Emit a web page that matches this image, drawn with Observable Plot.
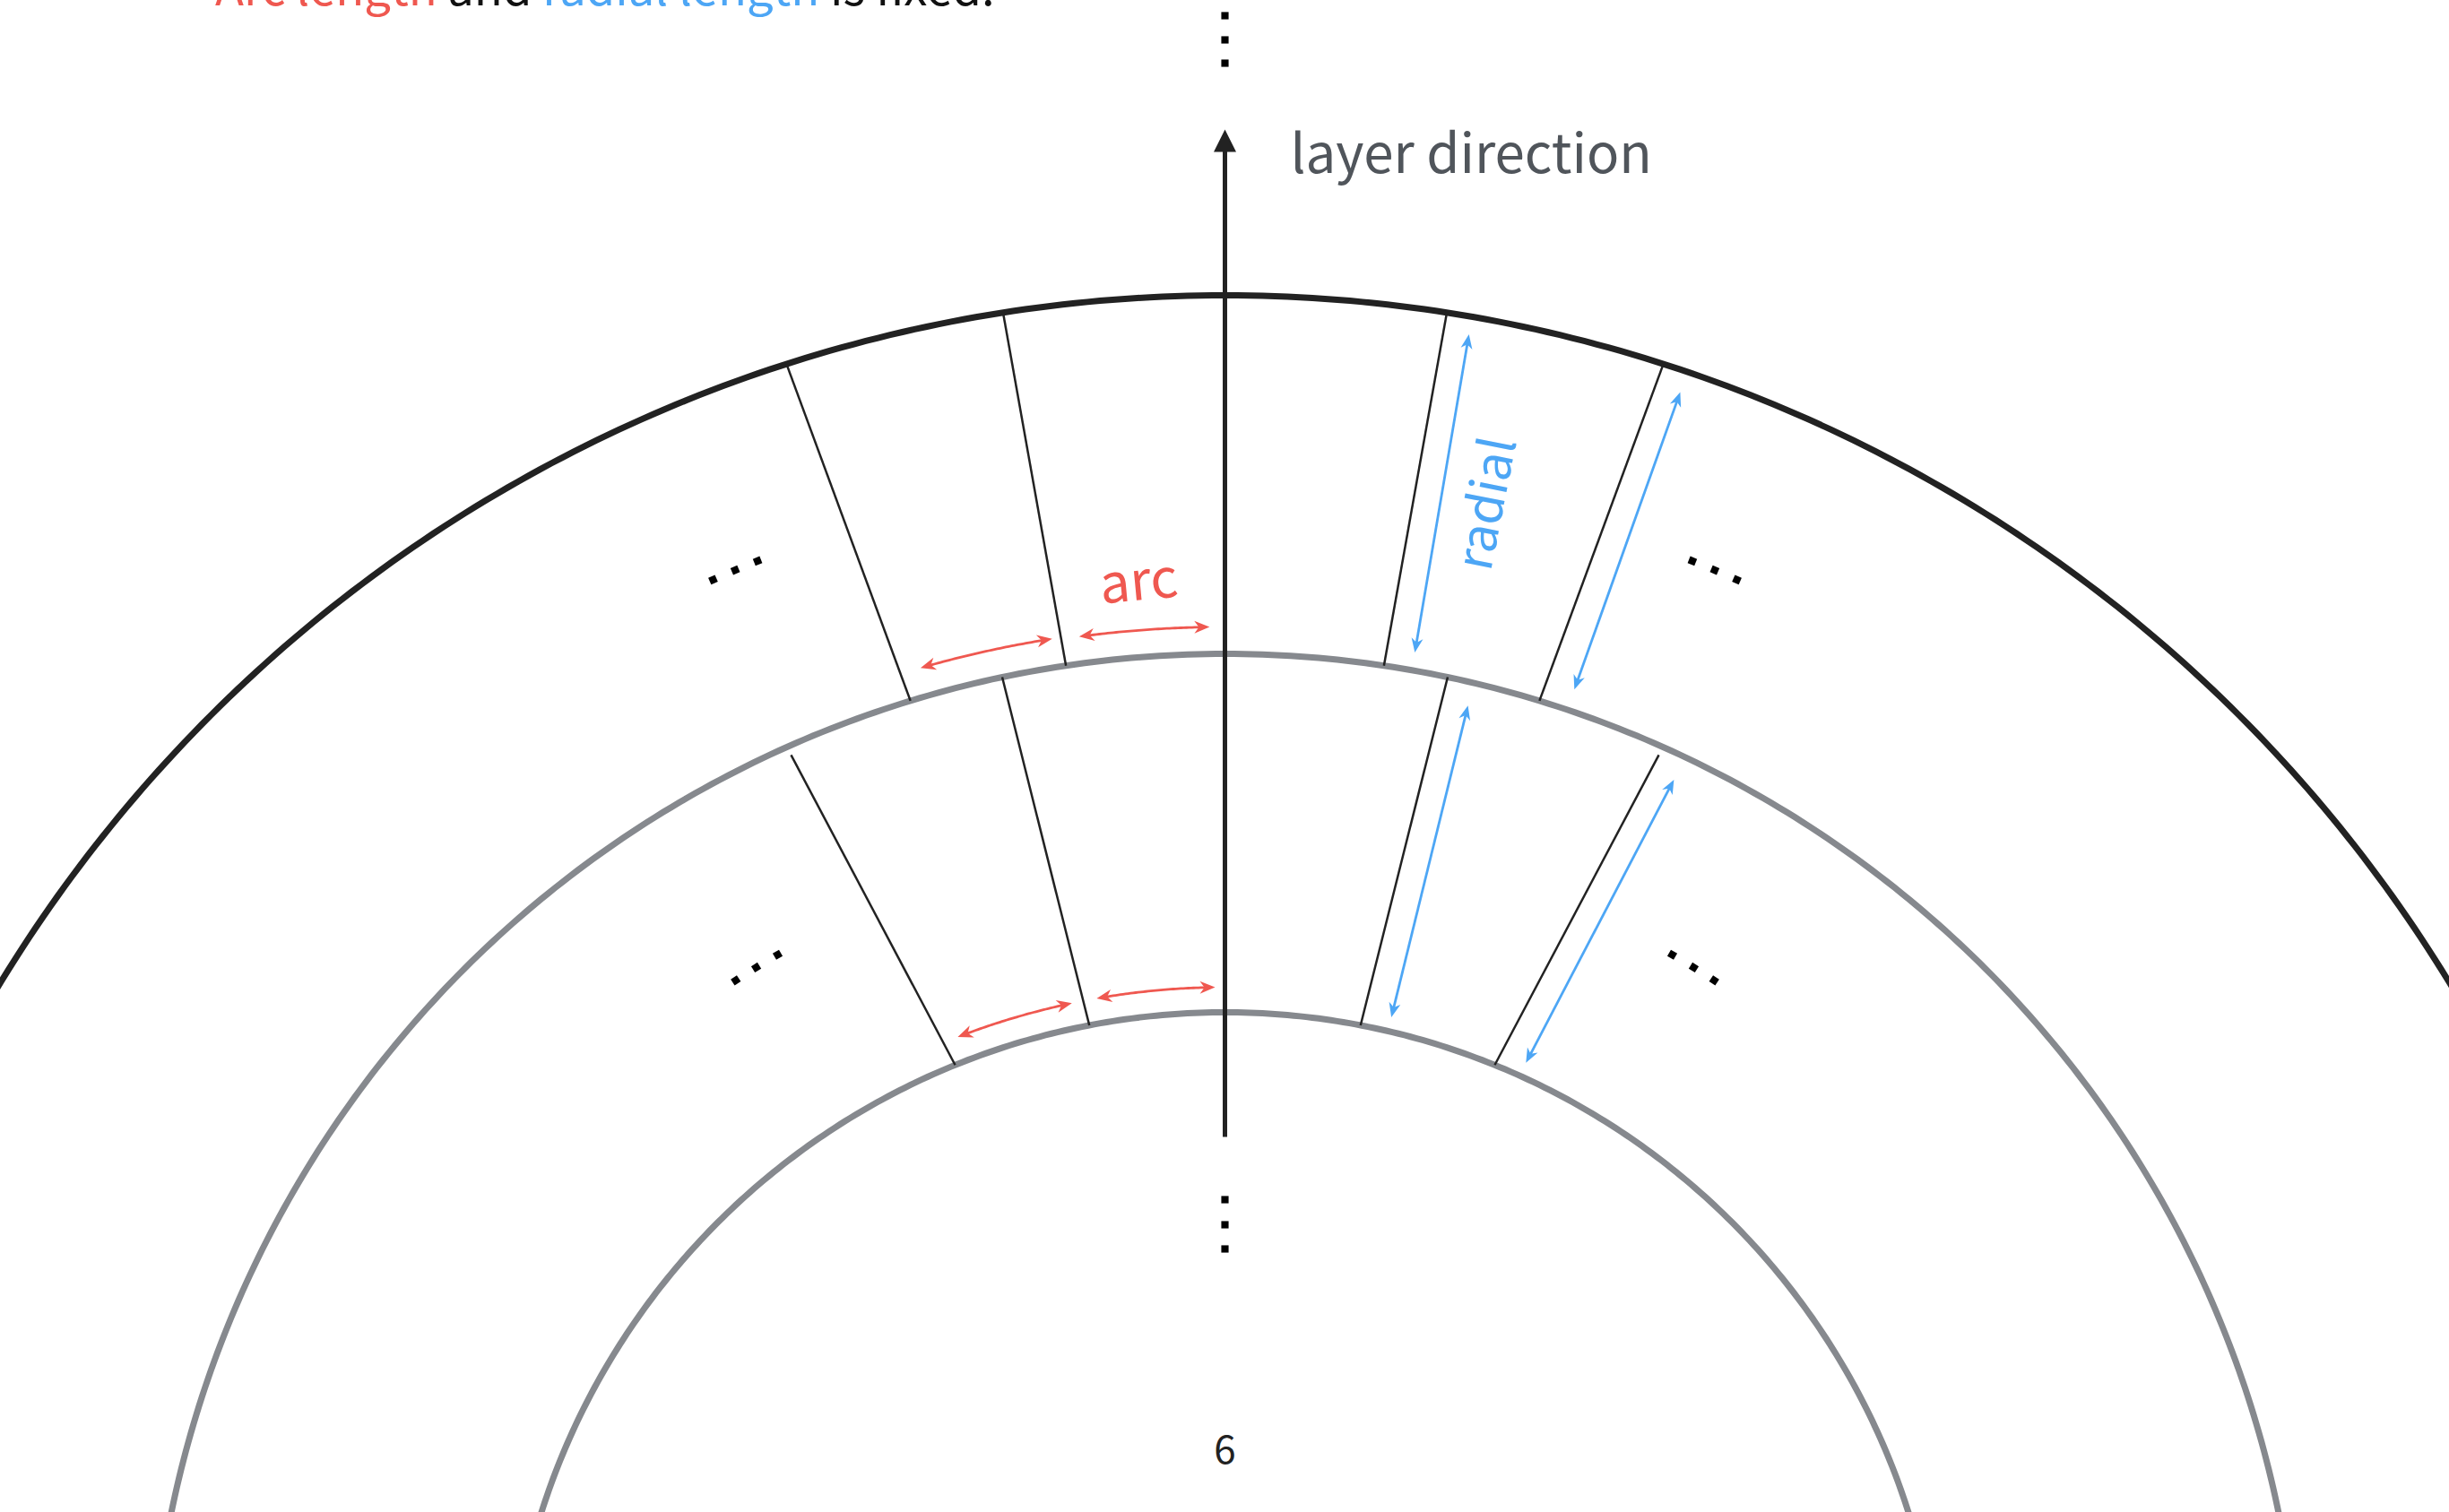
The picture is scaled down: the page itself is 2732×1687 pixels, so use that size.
<!DOCTYPE html>
<html>
<head>
<meta charset="utf-8">
<script src="https://cdn.jsdelivr.net/npm/d3@7"></script>
<script src="https://cdn.jsdelivr.net/npm/@observablehq/plot@0.6"></script>
<style>
  html, body { margin: 0; padding: 0; background: #fff; overflow: hidden; }
  #wrap { position: relative; width: 2732px; height: 1687px; }
  #wrap svg { display: block; }
  #title { position: absolute; left: 240px; top: -43px; font-family: "Noto Sans CJK KR", "Noto Sans", sans-serif;
           font-size: 52.5px; line-height: 1; white-space: nowrap; color: #111; z-index: 2; }
</style>
</head>
<body>
<div id="wrap">
  <div id="title"><span style="color:#ef5850">Arc length</span> and <span style="color:#4da6f5">radial length</span> is fixed.</div>
</div>
<script>
// ---- data (radii in layer units, angles in degrees from the vertical axis, + = right) ----
const grayRadii = [2, 3];
const blackRadii = [4];

const dividers = [
  {r0: 3, a0: 8.5,   r1: 4,     a1: 8.9},
  {r0: 3, a0: 17.0,  r1: 4,     a1: 17.8},
  {r0: 3, a0: -8.5,  r1: 4,     a1: -8.9},
  {r0: 3, a0: -17.0, r1: 4,     a1: -17.8},
  {r0: 2, a0: 10.9,  r1: 3,     a1: 11.95},
  {r0: 2, a0: 22.1,  r1: 2.975, a1: 24.0},
  {r0: 2, a0: -10.9, r1: 3,     a1: -11.95},
  {r0: 2, a0: -22.1, r1: 2.975, a1: -24.0}
];

const arcArrows = [
  {r: 3.075, a0: -0.8,  a1: -7.6},
  {r: 3.08,  a0: -9.0,  a1: -16.0},
  {r: 2.07,  a0: -0.76, a1: -9.95},
  {r: 2.07,  a0: -11.9, a1: -21.1}
];

const radialArrows = [
  {r0: 3.05, a0: 10.0,  r1: 3.95,  a1: 9.92},
  {r0: 3.06, a0: 18.57, r1: 3.94,  a1: 18.8},
  {r0: 2.04, a0: 13.15, r1: 2.935, a1: 13.35},
  {r0: 2.04, a0: 24.3,  r1: 2.93,  a1: 25.3}
];

const ellipsisDots = [
  {r: 3.51, a: -24.0}, {r: 3.51, a: -22.9}, {r: 3.51, a: -21.8},
  {r: 3.51, a: 21.8},  {r: 3.51, a: 22.9},  {r: 3.51, a: 24.0},
  {r: 2.495, a: -33.15}, {r: 2.495, a: -31.6}, {r: 2.495, a: -30.0},
  {r: 2.495, a: 30.0},   {r: 2.495, a: 31.6},  {r: 2.495, a: 33.15}
];

const axisDots = [4.78, 4.7125, 4.6475, 1.4775, 1.4075, 1.34];
const axisSpan = {r0: 1.6525, r1: 4.4625};

const labels = [
  {text: "arc",    r: 3.207, a: -4.3},
  {text: "radial", r: 3.496, a: 12.1}
];
const axisLabel = {text: "layer direction", x: 0.1825, y: 4.3425};
const pageNumber = {text: "6", r: 0.7425, a: 0};

// ---- layout ----
const W = 2732, H = 1687, U = 400, CX = 1366, CY = 1929;
const rad = a => a * Math.PI / 180;
const px = (r, a) => r * Math.sin(rad(a));
const py = (r, a) => r * Math.cos(rad(a));
const FONT = '"Noto Sans CJK KR", "Noto Sans", sans-serif';

const RED = "#ef5850", BLUE = "#4da6f5", GRAY = "#86898e", INK = "#222";

function headSymbol(L, w, notch) {
  return {draw(ctx) {
    ctx.moveTo(0, 0);
    ctx.lineTo(w / 2, L);
    ctx.lineTo(0, L * notch);
    ctx.lineTo(-w / 2, L);
    ctx.closePath();
  }};
}

// circles
const circlePts = radii => radii.flatMap(r =>
  d3.range(0, 721).map(i => ({r, x: px(r, i * 0.5 - 180), y: py(r, i * 0.5 - 180)})));

// arcs
const RH = 17, RW = 14;
const arcPts = [], arcHeads = [];
arcArrows.forEach((d, k) => {
  const s = Math.sign(d.a1 - d.a0);
  const trim = (RH * 0.6 / U) / d.r * 180 / Math.PI;
  const b0 = d.a0 + s * trim, b1 = d.a1 - s * trim;
  for (let i = 0; i <= 40; i++) {
    const a = b0 + (b1 - b0) * i / 40;
    arcPts.push({k, x: px(d.r, a), y: py(d.r, a)});
  }
  arcHeads.push({x: px(d.r, d.a1), y: py(d.r, d.a1), rot: d.a1 + 90 * s});
  arcHeads.push({x: px(d.r, d.a0), y: py(d.r, d.a0), rot: d.a0 - 90 * s});
});

// radial arrows
const BH = 16, BW = 13;
const radLinks = [], radHeads = [];
radialArrows.forEach(d => {
  const x0 = px(d.r0, d.a0), y0 = py(d.r0, d.a0), x1 = px(d.r1, d.a1), y1 = py(d.r1, d.a1);
  const len = Math.hypot(x1 - x0, y1 - y0), ux = (x1 - x0) / len, uy = (y1 - y0) / len;
  const t = BH * 0.6 / U;
  radLinks.push({x1: x0 + ux * t, y1: y0 + uy * t, x2: x1 - ux * t, y2: y1 - uy * t});
  const rot = Math.atan2(ux, uy) * 180 / Math.PI;
  radHeads.push({x: x1, y: y1, rot});
  radHeads.push({x: x0, y: y0, rot: rot + 180});
});

const chart = Plot.plot({
  width: W, height: H, margin: 0,
  x: {domain: [-CX / U, (W - CX) / U], range: [0, W], axis: null},
  y: {domain: [(CY - H) / U, CY / U], range: [H, 0], axis: null},
  style: {background: "white", fontFamily: FONT},
  marks: [
    Plot.line(circlePts(grayRadii), {x: "x", y: "y", z: "r", stroke: GRAY, strokeWidth: 7}),
    Plot.line(circlePts(blackRadii), {x: "x", y: "y", z: "r", stroke: INK, strokeWidth: 7}),
    Plot.link(dividers, {x1: d => px(d.r0, d.a0), y1: d => py(d.r0, d.a0), x2: d => px(d.r1, d.a1), y2: d => py(d.r1, d.a1),
      stroke: INK, strokeWidth: 2.5}),
    // axis
    Plot.link([axisSpan], {x1: 0, y1: d => d.r0, x2: 0, y2: d => d.r1 - 22 / U, stroke: INK, strokeWidth: 5}),
    Plot.dot([axisSpan], {x: 0, y: d => d.r1, symbol: headSymbol(25, 25, 1), fill: INK, stroke: null, r: 10}),
    Plot.dot(axisDots, {x: 0, y: d => d, symbol: "square", r: 4.6, fill: "#000", stroke: null}),
    // arc arrows
    Plot.line(arcPts, {x: "x", y: "y", z: "k", stroke: RED, strokeWidth: 2.8}),
    Plot.dot(arcHeads, {x: "x", y: "y", rotate: "rot", symbol: headSymbol(RH, RW, 0.7), fill: RED, stroke: null, r: 8}),
    // radial arrows
    Plot.link(radLinks, {x1: "x1", y1: "y1", x2: "x2", y2: "y2", stroke: BLUE, strokeWidth: 2.8}),
    Plot.dot(radHeads, {x: "x", y: "y", rotate: "rot", symbol: headSymbol(BH, BW, 0.7), fill: BLUE, stroke: null, r: 8}),
    // ellipsis
    Plot.dot(ellipsisDots, {x: d => px(d.r, d.a), y: d => py(d.r, d.a), rotate: d => d.a, symbol: "square", r: 4.6, fill: "#000", stroke: null}),
    // labels
    Plot.text(labels.filter(d => d.text === "arc"), {x: d => px(d.r, d.a), y: d => py(d.r, d.a), text: "text", rotate: d => d.a - 1,
      fill: RED, fontSize: 60, textAnchor: "middle", lineAnchor: "middle"}),
    Plot.text(labels.filter(d => d.text === "radial"), {x: d => px(d.r, d.a), y: d => py(d.r, d.a), text: "text", rotate: d => d.a - 91,
      fill: BLUE, fontSize: 56, textAnchor: "middle", lineAnchor: "middle"}),
    Plot.text([axisLabel], {x: "x", y: "y", text: "text", fill: "#50555b", fontSize: 60, textAnchor: "start", lineAnchor: "bottom"}),
    Plot.text([pageNumber], {x: d => px(d.r, d.a), y: d => py(d.r, d.a), text: "text", fill: "#222", fontSize: 44, textAnchor: "middle", lineAnchor: "bottom"})
  ]
});
document.getElementById("wrap").appendChild(chart);
</script>
</body>
</html>
